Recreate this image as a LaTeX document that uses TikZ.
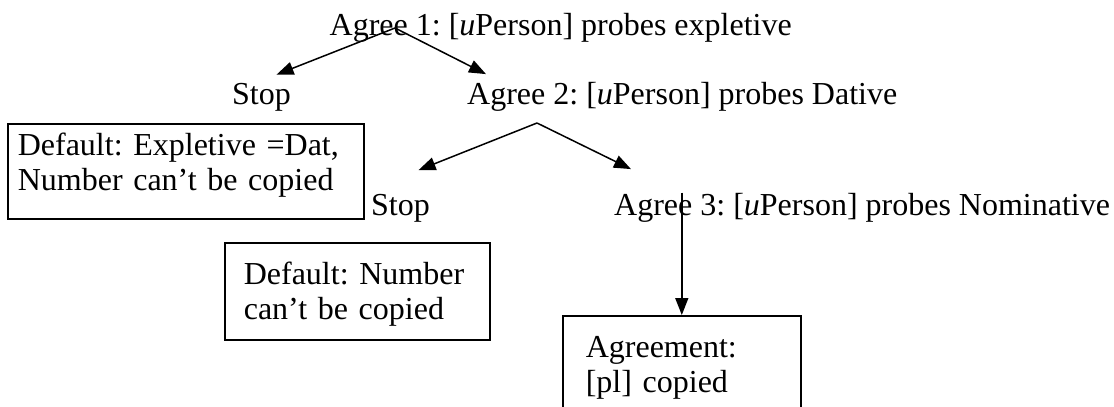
\documentclass[tikz,border=0pt]{standalone}
\usepackage{fontspec}
\setmainfont{Liberation Serif}
\usetikzlibrary{arrows.meta}
\frenchspacing

\begin{document}
\begin{tikzpicture}[x=1pt, y=-1pt,
    txt/.style={anchor=base west, inner sep=0pt, font=\fontsize{32}{34.5}\selectfont},
    resbox/.style={draw, line width=1.6pt, anchor=north west, inner ysep=0pt, align=left, font=\fontsize{32}{34.5}\selectfont},
    arr/.style={-{Triangle[length=17pt, width=13pt]}, line width=1.5pt}]
    \useasboundingbox (0,0) rectangle (1114,407);
    \clip (0,0) rectangle (1114,407);

    % First probe: expletive
    \node[txt] (agree1) at (329.5,35) {Agree 1: [\textit{u}Person] probes expletive};
    \node[txt] (stop1) at (232,104) {Stop};
    \node[txt] (agree2) at (467,104) {Agree 2: [\textit{u}Person] probes Dative};
    \draw[arr] ([xshift=65.5pt, yshift=7pt]agree1.base west) -- ([xshift=15pt, yshift=8pt]stop1.north);
    \draw[arr] ([xshift=65.5pt, yshift=7pt]agree1.base west) -- ([xshift=19pt, yshift=7.5pt]agree2.north west);

    % Default when the first probe stops
    \node[resbox, inner xsep=10pt, text width=336pt] (dflt1) at (7,123) {\rule{0pt}{32pt}Default: Expletive =Dat,\\Number can’t be copied\rule[-28.5pt]{0pt}{0pt}};

    % Second probe: Dative
    \node[txt] (stop2) at (371,215) {Stop};
    \node[txt] (agree3) at (614,215) {Agree 3: [\textit{u}Person] probes Nominative};
    \draw[arr] ([xshift=70pt, yshift=-19pt]agree2.base west) -- ([xshift=18pt, yshift=23.5pt]stop2.north);
    \draw[arr] ([xshift=70pt, yshift=-19pt]agree2.base west) -- ([xshift=17pt, yshift=23.5pt]agree3.north west);

    % Default when the second probe stops
    \node[resbox, inner xsep=19pt, text width=227pt] (dflt2) at (224,242) {\rule{0pt}{42pt}Default: Number\\can’t be copied\rule[-20.5pt]{0pt}{0pt}};

    % Third probe: Nominative, number is copied
    \node[resbox, inner xsep=23pt, text width=192pt] (agreed) at (562,315) {\rule{0pt}{42pt}Agreement:\\{}[pl] copied\rule[-38.5pt]{0pt}{0pt}};
    \draw[arr] (agree3.north -| agreed.north) -- (agreed.north);
\end{tikzpicture}
\end{document}
